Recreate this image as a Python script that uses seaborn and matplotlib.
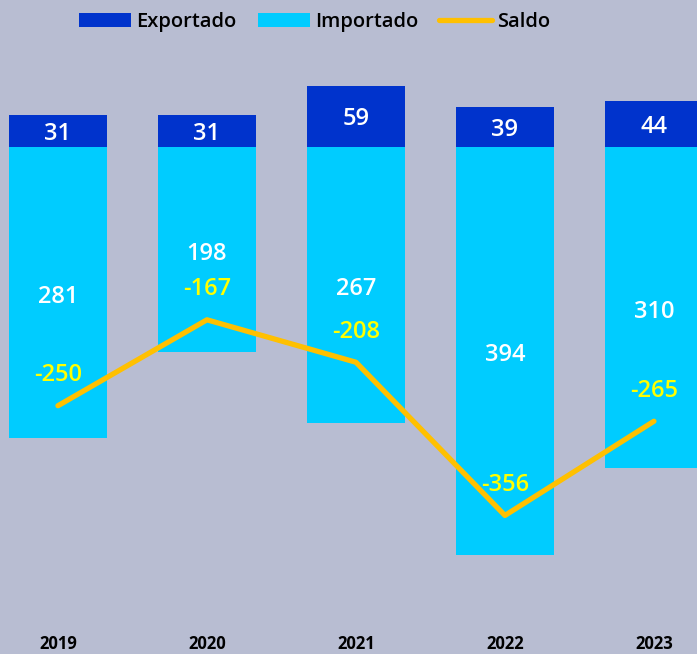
import numpy as np
import pandas as pd
import matplotlib
matplotlib.use('Agg')
import matplotlib.pyplot as plt
from matplotlib.patches import Patch
from matplotlib.lines import Line2D
import seaborn as sns

# Dados
anos = ['2019', '2020', '2021', '2022', '2023']
exportado = [31, 31, 59, 39, 44]
importado = [281, 198, 267, 394, 310]
saldo = [-250, -167, -208, -356, -265]

BG = '#B8BDD2'
AZUL_ESCURO = '#0033CC'
AZUL_CLARO = '#00CCFF'
LARANJA = '#FFC000'
AMARELO = '#FFFF00'

sns.set_theme(style='white')
plt.rcParams['font.family'] = ['Open Sans', 'DejaVu Sans']

df = pd.DataFrame({'Ano': anos, 'Exportado': exportado,
                   'Importado': [-v for v in importado], 'Saldo': saldo})

fig = plt.figure(figsize=(6.97, 6.54), dpi=100, facecolor=BG)
ax = fig.add_axes([0, 0.052, 1, 0.887])
ax.set_facecolor(BG)

sns.barplot(data=df, x='Ano', y='Exportado', color=AZUL_ESCURO, width=0.66,
            saturation=1, ax=ax, linewidth=0)
sns.barplot(data=df, x='Ano', y='Importado', color=AZUL_CLARO, width=0.66,
            saturation=1, ax=ax, linewidth=0)

pos = np.arange(len(anos))
sns.lineplot(x=pos, y=df['Saldo'], color=LARANJA, linewidth=3.8, ax=ax,
             solid_capstyle='round', solid_joinstyle='round')

# rótulos
kw = dict(textcoords='offset points', ha='center', va='center',
          fontsize=17, fontweight='semibold')
for i in range(len(anos)):
    ax.annotate(str(exportado[i]), xy=(i, exportado[i] / 2), xytext=(0, -2),
                color='white', **kw)
    ax.annotate(str(importado[i]), xy=(i, -importado[i] / 2), xytext=(0, -3),
                color='white', **kw)
    ax.annotate(str(saldo[i]), xy=(i, saldo[i]), xytext=(0, 22),
                color=AMARELO, **kw)

ax.set_xlim(-0.389, 4.289)
ax.set_ylim(-457, 103.4)
ax.set_xlabel('')
ax.set_ylabel('')
ax.set_yticks([])
ax.tick_params(axis='x', length=0, pad=11, labelsize=12)
for lbl in ax.get_xticklabels():
    lbl.set_fontweight('bold')
    lbl.set_color('black')
sns.despine(ax=ax, left=True, bottom=True)

handles = [Patch(facecolor=AZUL_ESCURO, edgecolor='none', label='Exportado'),
           Patch(facecolor=AZUL_CLARO, edgecolor='none', label='Importado'),
           Line2D([0], [0], color=LARANJA, linewidth=3.8, solid_capstyle='round',
                  label='Saldo')]
leg = fig.legend(handles=handles, loc='center', bbox_to_anchor=(0.451, 0.966),
                 ncol=3, frameon=False, fontsize=14.5, handlelength=2.6,
                 handleheight=0.65, handletextpad=0.25, columnspacing=1.05)
for t in leg.get_texts():
    t.set_color('black')
    t.set_fontweight('semibold')

fig.savefig('out.png', dpi=100, facecolor=BG)
